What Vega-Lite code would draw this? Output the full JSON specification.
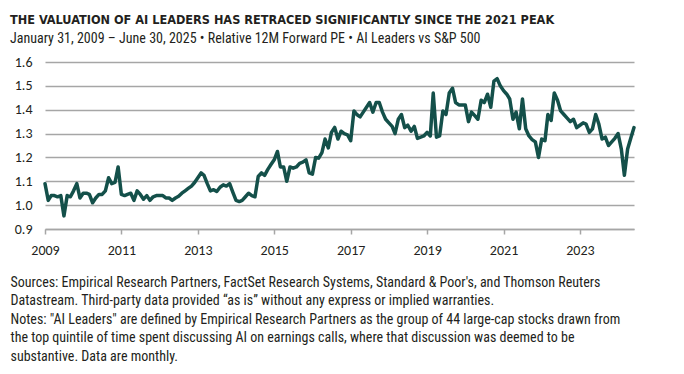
{
  "$schema": "https://vega.github.io/schema/vega-lite/v6.json",
  "width": 589,
  "height": 167,
  "autosize": {"type": "none"},
  "padding": {"left": 45, "top": 62, "right": 50, "bottom": 145},
  "background": "white",
  "title": {
    "text": "THE VALUATION OF AI LEADERS HAS RETRACED SIGNIFICANTLY SINCE THE 2021 PEAK",
    "subtitle": "January 31, 2009 – June 30, 2025 • Relative 12M Forward PE • AI Leaders vs S&P 500",
    "anchor": "start",
    "frame": "group",
    "dx": -35,
    "offset": 9,
    "font": "DejaVu Sans Condensed, Roboto Condensed, sans-serif",
    "fontSize": 12.6,
    "fontWeight": "bold",
    "color": "#231f20",
    "subtitleFont": "Roboto Condensed, sans-serif",
    "subtitleFontSize": 14,
    "subtitleColor": "#231f20",
    "subtitlePadding": 5
  },
  "data": {
    "values": [
      {"d": "2009-01-01", "v": 1.09}, {"d": "2009-02-01", "v": 1.02}, {"d": "2009-03-01", "v": 1.04}, {"d": "2009-04-01", "v": 1.04}, {"d": "2009-05-01", "v": 1.035}, {"d": "2009-06-01", "v": 1.04}, {"d": "2009-07-01", "v": 0.955}, {"d": "2009-08-01", "v": 1.04}, {"d": "2009-09-01", "v": 1.035}, {"d": "2009-10-01", "v": 1.06}, {"d": "2009-11-01", "v": 1.09}, {"d": "2009-12-01", "v": 1.03},
      {"d": "2010-01-01", "v": 1.05}, {"d": "2010-02-01", "v": 1.05}, {"d": "2010-03-01", "v": 1.045}, {"d": "2010-04-01", "v": 1.01}, {"d": "2010-05-01", "v": 1.03}, {"d": "2010-06-01", "v": 1.045}, {"d": "2010-07-01", "v": 1.045}, {"d": "2010-08-01", "v": 1.06}, {"d": "2010-09-01", "v": 1.115}, {"d": "2010-10-01", "v": 1.09}, {"d": "2010-11-01", "v": 1.095}, {"d": "2010-12-01", "v": 1.16},
      {"d": "2011-01-01", "v": 1.045}, {"d": "2011-02-01", "v": 1.04}, {"d": "2011-03-01", "v": 1.045}, {"d": "2011-04-01", "v": 1.05}, {"d": "2011-05-01", "v": 1.02}, {"d": "2011-06-01", "v": 1.06}, {"d": "2011-07-01", "v": 1.045}, {"d": "2011-08-01", "v": 1.025}, {"d": "2011-09-01", "v": 1.04}, {"d": "2011-10-01", "v": 1.02}, {"d": "2011-11-01", "v": 1.035}, {"d": "2011-12-01", "v": 1.04},
      {"d": "2012-01-01", "v": 1.04}, {"d": "2012-02-01", "v": 1.04}, {"d": "2012-03-01", "v": 1.03}, {"d": "2012-04-01", "v": 1.03}, {"d": "2012-05-01", "v": 1.02}, {"d": "2012-06-01", "v": 1.03}, {"d": "2012-07-01", "v": 1.037}, {"d": "2012-08-01", "v": 1.05}, {"d": "2012-09-01", "v": 1.06}, {"d": "2012-10-01", "v": 1.07}, {"d": "2012-11-01", "v": 1.08}, {"d": "2012-12-01", "v": 1.095},
      {"d": "2013-01-01", "v": 1.115}, {"d": "2013-02-01", "v": 1.135}, {"d": "2013-03-01", "v": 1.125}, {"d": "2013-04-01", "v": 1.09}, {"d": "2013-05-01", "v": 1.06}, {"d": "2013-06-01", "v": 1.065}, {"d": "2013-07-01", "v": 1.057}, {"d": "2013-08-01", "v": 1.075}, {"d": "2013-09-01", "v": 1.085}, {"d": "2013-10-01", "v": 1.08}, {"d": "2013-11-01", "v": 1.09}, {"d": "2013-12-01", "v": 1.055},
      {"d": "2014-01-01", "v": 1.02}, {"d": "2014-02-01", "v": 1.015}, {"d": "2014-03-01", "v": 1.02}, {"d": "2014-04-01", "v": 1.035}, {"d": "2014-05-01", "v": 1.05}, {"d": "2014-06-01", "v": 1.04}, {"d": "2014-07-01", "v": 1.035}, {"d": "2014-08-01", "v": 1.12}, {"d": "2014-09-01", "v": 1.135}, {"d": "2014-10-01", "v": 1.125}, {"d": "2014-11-01", "v": 1.15}, {"d": "2014-12-01", "v": 1.17},
      {"d": "2015-01-01", "v": 1.19}, {"d": "2015-02-01", "v": 1.225}, {"d": "2015-03-01", "v": 1.16}, {"d": "2015-04-01", "v": 1.16}, {"d": "2015-05-01", "v": 1.1}, {"d": "2015-06-01", "v": 1.16}, {"d": "2015-07-01", "v": 1.155}, {"d": "2015-08-01", "v": 1.16}, {"d": "2015-09-01", "v": 1.175}, {"d": "2015-10-01", "v": 1.18}, {"d": "2015-11-01", "v": 1.19}, {"d": "2015-12-01", "v": 1.135},
      {"d": "2016-01-01", "v": 1.13}, {"d": "2016-02-01", "v": 1.2}, {"d": "2016-03-01", "v": 1.197}, {"d": "2016-04-01", "v": 1.22}, {"d": "2016-05-01", "v": 1.277}, {"d": "2016-06-01", "v": 1.24}, {"d": "2016-07-01", "v": 1.305}, {"d": "2016-08-01", "v": 1.326}, {"d": "2016-09-01", "v": 1.277}, {"d": "2016-10-01", "v": 1.31}, {"d": "2016-11-01", "v": 1.3}, {"d": "2016-12-01", "v": 1.295},
      {"d": "2017-01-01", "v": 1.27}, {"d": "2017-02-01", "v": 1.395}, {"d": "2017-03-01", "v": 1.38}, {"d": "2017-04-01", "v": 1.37}, {"d": "2017-05-01", "v": 1.39}, {"d": "2017-06-01", "v": 1.41}, {"d": "2017-07-01", "v": 1.43}, {"d": "2017-08-01", "v": 1.39}, {"d": "2017-09-01", "v": 1.43}, {"d": "2017-10-01", "v": 1.43}, {"d": "2017-11-01", "v": 1.39}, {"d": "2017-12-01", "v": 1.36},
      {"d": "2018-01-01", "v": 1.345}, {"d": "2018-02-01", "v": 1.33}, {"d": "2018-03-01", "v": 1.3}, {"d": "2018-04-01", "v": 1.36}, {"d": "2018-05-01", "v": 1.38}, {"d": "2018-06-01", "v": 1.325}, {"d": "2018-07-01", "v": 1.335}, {"d": "2018-08-01", "v": 1.31}, {"d": "2018-09-01", "v": 1.33}, {"d": "2018-10-01", "v": 1.28}, {"d": "2018-11-01", "v": 1.285}, {"d": "2018-12-01", "v": 1.29},
      {"d": "2019-01-01", "v": 1.305}, {"d": "2019-02-01", "v": 1.29}, {"d": "2019-03-01", "v": 1.47}, {"d": "2019-04-01", "v": 1.285}, {"d": "2019-05-01", "v": 1.29}, {"d": "2019-06-01", "v": 1.395}, {"d": "2019-07-01", "v": 1.38}, {"d": "2019-08-01", "v": 1.47}, {"d": "2019-09-01", "v": 1.49}, {"d": "2019-10-01", "v": 1.43}, {"d": "2019-11-01", "v": 1.42}, {"d": "2019-12-01", "v": 1.42},
      {"d": "2020-01-01", "v": 1.42}, {"d": "2020-02-01", "v": 1.35}, {"d": "2020-03-01", "v": 1.39}, {"d": "2020-04-01", "v": 1.375}, {"d": "2020-05-01", "v": 1.36}, {"d": "2020-06-01", "v": 1.44}, {"d": "2020-07-01", "v": 1.43}, {"d": "2020-08-01", "v": 1.465}, {"d": "2020-09-01", "v": 1.41}, {"d": "2020-10-01", "v": 1.52}, {"d": "2020-11-01", "v": 1.53}, {"d": "2020-12-01", "v": 1.5},
      {"d": "2021-01-01", "v": 1.48}, {"d": "2021-02-01", "v": 1.465}, {"d": "2021-03-01", "v": 1.445}, {"d": "2021-04-01", "v": 1.36}, {"d": "2021-05-01", "v": 1.39}, {"d": "2021-06-01", "v": 1.32}, {"d": "2021-07-01", "v": 1.445}, {"d": "2021-08-01", "v": 1.32}, {"d": "2021-09-01", "v": 1.29}, {"d": "2021-10-01", "v": 1.275}, {"d": "2021-11-01", "v": 1.265}, {"d": "2021-12-01", "v": 1.2},
      {"d": "2022-01-01", "v": 1.277}, {"d": "2022-02-01", "v": 1.27}, {"d": "2022-03-01", "v": 1.38}, {"d": "2022-04-01", "v": 1.355}, {"d": "2022-05-01", "v": 1.47}, {"d": "2022-06-01", "v": 1.44}, {"d": "2022-07-01", "v": 1.395}, {"d": "2022-08-01", "v": 1.38}, {"d": "2022-09-01", "v": 1.365}, {"d": "2022-10-01", "v": 1.35}, {"d": "2022-11-01", "v": 1.36}, {"d": "2022-12-01", "v": 1.325},
      {"d": "2023-01-01", "v": 1.335}, {"d": "2023-02-01", "v": 1.345}, {"d": "2023-03-01", "v": 1.34}, {"d": "2023-04-01", "v": 1.305}, {"d": "2023-05-01", "v": 1.32}, {"d": "2023-06-01", "v": 1.38}, {"d": "2023-07-01", "v": 1.34}, {"d": "2023-08-01", "v": 1.277}, {"d": "2023-09-01", "v": 1.285}, {"d": "2023-10-01", "v": 1.25}, {"d": "2023-11-01", "v": 1.265}, {"d": "2023-12-01", "v": 1.28},
      {"d": "2024-01-01", "v": 1.3}, {"d": "2024-02-01", "v": 1.235}, {"d": "2024-03-01", "v": 1.125}, {"d": "2024-04-01", "v": 1.235}, {"d": "2024-05-01", "v": 1.28}, {"d": "2024-06-01", "v": 1.325}
    ]
  },
  "encoding": {
    "x": {
      "field": "d",
      "type": "temporal",
      "scale": {"type": "utc", "domain": [{"year": 2009, "month": 1, "date": 1, "utc": true}, {"year": 2024, "month": 6, "date": 1, "utc": true}], "nice": false},
      "axis": {
        "values": [{"year": 2009, "utc": true}, {"year": 2011, "utc": true}, {"year": 2013, "utc": true}, {"year": 2015, "utc": true}, {"year": 2017, "utc": true}, {"year": 2019, "utc": true}, {"year": 2021, "utc": true}, {"year": 2023, "utc": true}],
        "format": "%Y",
        "formatType": "utc",
        "grid": false,
        "domainColor": "#a6a6a6",
        "domainWidth": 1.5,
        "tickColor": "#a6a6a6",
        "tickWidth": 1.5,
        "tickSize": 5,
        "labelFont": "Carlito, Lato, sans-serif",
        "labelFontSize": 14,
        "labelColor": "#231f20",
        "labelPadding": 9,
        "labelFlush": false,
        "title": [
          "Sources: Empirical Research Partners, FactSet Research Systems, Standard & Poor's, and Thomson Reuters",
          "Datastream. Third-party data provided “as is” without any express or implied warranties.",
          "Notes: \"AI Leaders\" are defined by Empirical Research Partners as the group of 44 large-cap stocks drawn from",
          "the top quintile of time spent discussing AI on earnings calls, where that discussion was deemed to be",
          "substantive. Data are monthly."
        ],
        "titleAnchor": "start",
        "titleAlign": "left",
        "titleBaseline": "top",
        "titleX": -35,
        "titleY": 46,
        "titleLineHeight": 18.5,
        "titleFont": "Roboto Condensed, sans-serif",
        "titleFontSize": 14,
        "titleFontWeight": "normal",
        "titleColor": "#231f20"
      }
    },
    "y": {
      "field": "v",
      "type": "quantitative",
      "scale": {"domain": [0.9, 1.6], "nice": false, "zero": false},
      "axis": {
        "values": [0.9, 1.0, 1.1, 1.2, 1.3, 1.4, 1.5, 1.6],
        "format": ".1f",
        "domain": false,
        "ticks": false,
        "grid": true,
        "gridColor": "#a6a6a6",
        "gridWidth": 1.5,
        "labelFont": "Carlito, Lato, sans-serif",
        "labelFontSize": 14,
        "labelColor": "#231f20",
        "labelPadding": 13,
        "title": null
      }
    }
  },
  "layer": [
    {
      "mark": {"type": "line", "color": "#14504a", "strokeWidth": 3.5, "strokeJoin": "round", "strokeCap": "round"}
    },
    {
      "transform": [{"filter": "datum.d == '2024-06-01'"}],
      "mark": {"type": "text", "align": "left", "baseline": "middle", "dx": 7, "font": "Carlito, Lato, sans-serif", "fontSize": 14, "color": "#231f20"},
      "encoding": {"text": {"field": "v", "type": "quantitative", "format": ".1f"}}
    }
  ],
  "config": {"view": {"stroke": null}}
}
